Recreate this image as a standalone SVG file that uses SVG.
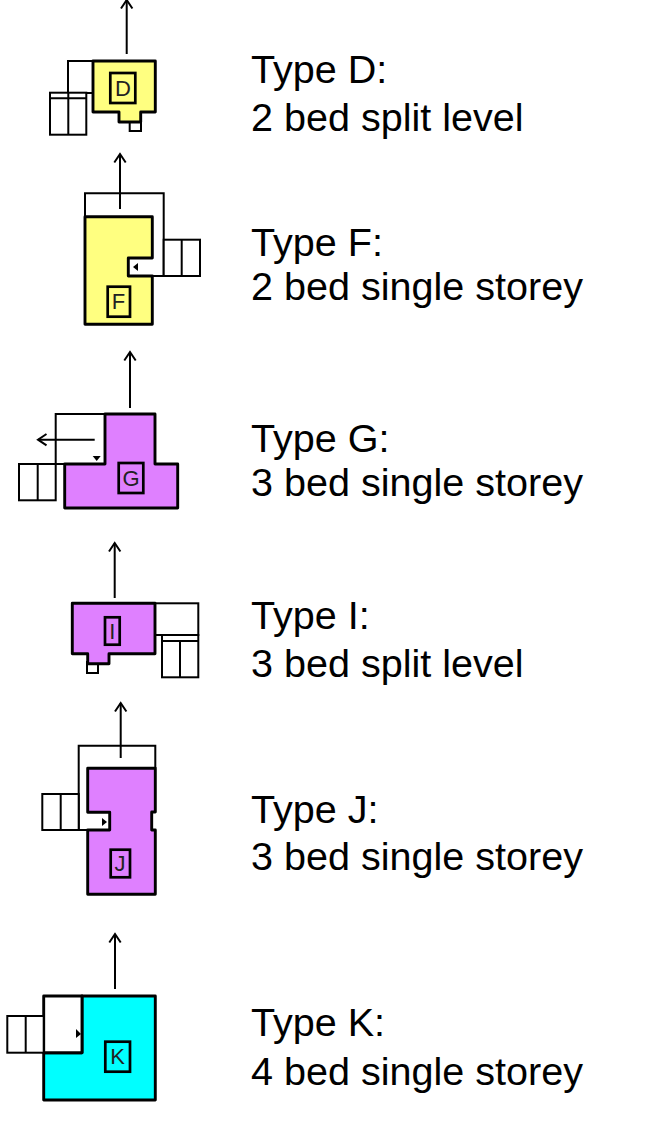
<svg xmlns="http://www.w3.org/2000/svg" width="667" height="1124" viewBox="0 0 667 1124">
<style>
.h{stroke:#000;stroke-width:2.9;stroke-linejoin:round}
.y{fill:#ffff80}.p{fill:#df80ff}.c{fill:#00ffff}
.t{fill:none;stroke:#000;stroke-width:2}
.w{fill:#fff;stroke:#000;stroke-width:2}
.l{fill:none;stroke:#000;stroke-width:2.7}
.a{fill:none;stroke:#000;stroke-width:2;marker-end:url(#ah)}
.m{font:22px "Liberation Sans",Arial,sans-serif;fill:#222;text-anchor:middle}
.x{font:39.550px "Liberation Sans",Arial,sans-serif;fill:#000}
</style>
<defs><marker id="ah" markerUnits="userSpaceOnUse" markerWidth="18" markerHeight="18" refX="12" refY="8" orient="auto"><path d="M3.500 2.300 L12 8 L3.500 13.700" fill="none" stroke="#000" stroke-width="2"/></marker></defs>
<rect width="667" height="1124" fill="#fff"/>
<g id="type-d">
<rect class="w" x="68" y="61" width="25" height="32"/>
<rect class="w" x="50" y="92.700" width="36.300" height="42"/><path class="t" d="M50 98.300H86.300M68.300 93V134.700"/>
<rect class="w" x="129.700" y="120" width="11.300" height="11"/>
<path class="h y" d="M93 61H155.300V112H140.700V122H119V112H93Z"/>
<rect class="l" x="110.300" y="73" width="25" height="30"/><text class="m" x="123" y="96">D</text>
<text class="x" x="251" y="83">Type D:</text><text class="x" x="251" y="131">2 bed split level</text>
</g>
<g id="type-f">
<path class="t" d="M85 216.700V193.300H163.700V276"/>
<rect class="w" x="163.700" y="239.700" width="36.300" height="36.300"/><path class="t" d="M181.700 239.700V276"/>
<path class="h y" d="M85 216.700H152.300V258H128.300V276H152.300V324.300H85Z"/>
<path class="t" d="M152 276H164"/>
<path d="M133 267l5-4v8z" fill="#000"/>
<rect class="l" x="107.700" y="286.700" width="22.300" height="30"/><text class="m" x="118.500" y="309">F</text>
<text class="x" x="251" y="256">Type F:</text><text class="x" x="251" y="300">2 bed single storey</text>
</g>
<g id="type-g">
<rect class="w" x="55.700" y="414" width="49.300" height="50"/>
<rect class="w" x="19" y="464" width="36.700" height="36.300"/><path class="t" d="M37.700 464V500.300"/>
<path class="h p" d="M105 414H155V464H177.700V508H64.700V464H105Z"/>
<path d="M92.700 456h8l-4 5z" fill="#000"/>
<rect class="l" x="118.700" y="463" width="24.600" height="30"/><text class="m" x="131" y="486">G</text>
<text class="x" x="251" y="452">Type G:</text><text class="x" x="251" y="496">3 bed single storey</text>
</g>
<g id="type-i">
<rect class="w" x="155" y="603.300" width="43.300" height="31.700"/>
<rect class="w" x="162" y="635" width="36.300" height="42.300"/><path class="t" d="M162 641H198.300M180 641V677.300"/>
<rect class="w" x="87" y="662" width="11" height="11"/>
<path class="h p" d="M72.300 603.300H155V653.700H109V663.700H87.700V653.700H72.300Z"/>
<rect class="l" x="105" y="617.300" width="14.700" height="27.400"/><text class="m" x="112.300" y="639">I</text>
<text class="x" x="251" y="629">Type I:</text><text class="x" x="251" y="677">3 bed split level</text>
</g>
<g id="type-j">
<path class="t" d="M78.700 830V745.700H155.300V768"/>
<rect class="w" x="42.300" y="794" width="36.400" height="36"/><path class="t" d="M60.700 794V830"/>
<path class="h p" d="M87.700 768.300H155.300V812H151.700V830H155.300V894.300H87.700V830H109.700V812.300H87.700Z"/>
<path class="t" d="M78.700 830H88"/>
<path d="M102 818l5 4l-5 4z" fill="#000"/>
<rect class="l" x="110.700" y="849.700" width="19.300" height="27.600"/><text class="m" x="120" y="871">J</text>
<text class="x" x="251" y="823">Type J:</text><text class="x" x="251" y="870">3 bed single storey</text>
</g>
<g id="type-k">
<path class="h c" d="M82 996H155.300V1100H43.700V1052.700H82Z"/>
<path class="h" fill="#fff" d="M43.700 996H82V1052.700H43.700Z"/>
<rect class="w" x="7.300" y="1016" width="36.400" height="36.700"/><path class="t" d="M25.700 1016V1052.700"/>
<path d="M76 1029l5 5l-5 4z" fill="#000"/>
<rect class="l" x="105.300" y="1041.700" width="24.700" height="30"/><text class="m" x="117.700" y="1064">K</text>
<text class="x" x="251" y="1036">Type K:</text><text class="x" x="251" y="1085">4 bed single storey</text>
</g>
<g id="connectors">
<path class="a" d="M126.700 54V0"/><path class="a" d="M120 209V154"/><path class="a" d="M130 408V352"/><path class="a" d="M94.700 439.700H38"/><path class="a" d="M114.700 598V543"/><path class="a" d="M120.700 758V703"/><path class="a" d="M115 989V934"/>
</g>
</svg>
